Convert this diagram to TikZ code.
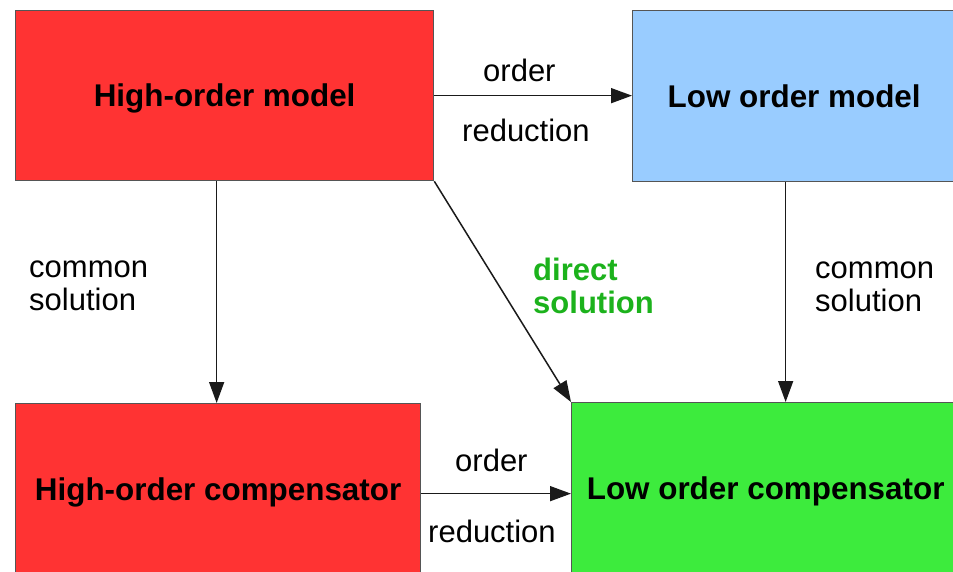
\documentclass[tikz,border=0pt]{standalone}
\usepackage{fontspec}
\setmainfont{Liberation Sans}
\usetikzlibrary{arrows.meta}

\definecolor{hired}{HTML}{FF3333}
\definecolor{loblue}{HTML}{99CCFF}
\definecolor{logreen}{HTML}{3DEB3D}
\definecolor{dirgreen}{RGB}{28,178,28}
\definecolor{edge}{HTML}{555555}
\definecolor{wire}{HTML}{1A1A1A}

\tikzset{
  block/.style={draw=edge, line width=1.3pt, inner sep=0pt, anchor=north west,
    font=\fontsize{31.4}{34}\selectfont\bfseries, text height=22pt, text depth=0pt},
  lbl/.style={inner sep=0pt, anchor=base west, align=left,
    font=\fontsize{31}{33}\selectfont},
  arr/.style={draw=wire, line width=1.5pt,
    -{Triangle[length=21pt,width=15pt]}}
}

\begin{document}
\begin{tikzpicture}[x=1pt, y=-1pt]
  \useasboundingbox (0,0) rectangle (953,572);
  \clip (0,0) rectangle (953,572);

  % the four blocks
  \node[block, fill=hired, minimum width=418pt, minimum height=170pt]
    (hom) at (15,10) {High-order model};
  \node[block, fill=loblue, minimum width=323pt, minimum height=171pt]
    (lom) at (632,10) {Low order model};
  \node[block, fill=hired, minimum width=405pt, minimum height=171pt]
    (hoc) at (15,403) {High-order compensator};
  \node[block, fill=logreen, minimum width=388pt, minimum height=172pt]
    (loc) at (571,402) {Low order compensator};

  % connectors
  \draw[arr] (hom.east) -- (hom.east -| lom.west);
  \draw[arr] ([xshift=-8pt]hom.south) -- ([xshift=-8pt]hom.south |- hoc.north);
  \draw[arr] ([xshift=-8.5pt]lom.south) -- ([xshift=-8.5pt]lom.south |- loc.north);
  \draw[arr] (hom.south east) -- (loc.north west);
  \draw[arr] ([yshift=-4.5pt]hoc.east) -- ([yshift=-4.5pt]hoc.east -| loc.west);

  % connector labels (two-line labels sit on the baseline of their last line)
  \node[lbl] (t1) at (483,82) {order};
  \node[lbl] (t2) at (462,142) {reduction};
  \node[lbl] (t3) at (29,310) {common\\solution};
  \node[lbl, font=\fontsize{31}{33}\selectfont\bfseries, text=dirgreen]
    (t4) at (533,313) {direct\\solution};
  \node[lbl] (t5) at (815,311) {common\\solution};
  \node[lbl] (t6) at (455,471) {order};
  \node[lbl] (t7) at (428,542) {reduction};
\end{tikzpicture}
\end{document}
